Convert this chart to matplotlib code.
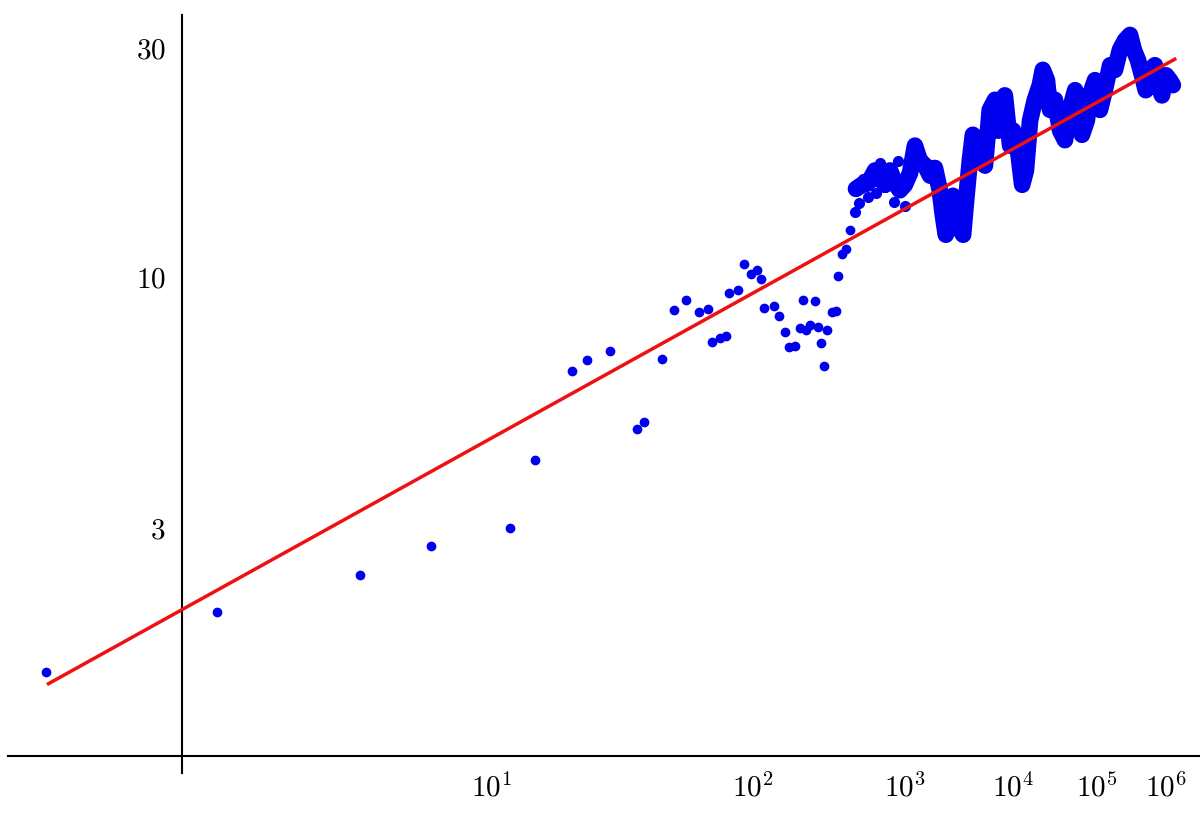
import numpy as np
import matplotlib
matplotlib.use("Agg")
import matplotlib.pyplot as plt

plt.rcParams['mathtext.fontset'] = 'cm'
plt.rcParams['font.family'] = 'DejaVu Serif'

# sparse points
x_sparse = [2.02, 3.03, 5.06, 7.08, 11.2, 13.2, 17.3, 19.4, 23.4, 29.6, 31.5, 37.3, 41.9, 47.3,
            54.3, 59.6, 62.3, 68.1, 72.9, 75.4, 83.8, 89.9, 98.0, 105.6, 110.7, 115.0, 130.9,
            139.5, 151.1, 159.7, 173.3, 185.4, 193.4, 201.7, 214.0, 229.5, 239.9, 250.7, 262.0,
            274.0, 294.9, 313.9, 323.2, 344.3, 365.2, 389.8]
y_sparse = [1.50, 2.00, 2.39, 2.74, 2.99, 4.14, 6.34, 6.68, 6.98, 4.80, 4.96, 6.71, 8.50, 8.91,
            8.41, 8.54, 7.29, 7.43, 7.50, 9.22, 9.35, 10.6, 10.1, 10.3, 9.86, 8.58, 8.66,
            8.25, 7.64, 7.11, 7.14, 7.79, 8.91, 7.72, 7.90, 8.87, 7.83, 7.25, 6.49,
            7.72, 8.41, 8.45, 10.0, 11.1, 11.4, 12.5]

# scattered points near 10^3
x_mid = [420, 450, 480, 520, 560, 600, 640, 700, 760, 820, 880, 950, 1000]
y_mid = [13.6, 14.2, 15.9, 14.6, 16.3, 14.9, 17.2, 15.3, 16.8, 14.3, 17.4, 15.8, 14.0]

# dense region: log10(x) and y
lx_dense = [2.633, 2.675, 2.718, 2.770, 2.806, 2.843, 2.883, 2.921, 2.959, 2.998, 3.040, 3.080,
            3.120, 3.164, 3.206, 3.248, 3.290, 3.317, 3.343, 3.380, 3.407, 3.435, 3.473, 3.501,
            3.529, 3.564, 3.593, 3.632, 3.662, 3.710, 3.758, 3.811, 3.842, 3.880, 3.912, 3.967,
            3.999, 4.051, 4.096, 4.137, 4.183, 4.237, 4.293, 4.327, 4.375, 4.411, 4.469, 4.531,
            4.590, 4.650, 4.716, 4.753, 4.802, 4.865, 4.903, 4.972, 5.037, 5.103, 5.176, 5.243,
            5.312, 5.385, 5.457, 5.512, 5.573, 5.634, 5.690, 5.754, 5.830, 5.876, 5.941, 6.006,
            6.066, 6.115]
y_dense = [15.2, 15.5, 15.6, 16.6, 16.0, 15.5, 16.6, 15.6, 15.1, 15.5, 16.4, 18.7,
           17.4, 17.0, 16.2, 16.8, 15.1, 13.4, 12.2, 13.7, 14.7, 14.4, 12.5, 12.2,
           14.4, 17.4, 19.7, 19.2, 18.7, 17.0, 22.2, 23.3, 20.1, 22.7, 23.8, 18.7,
           20.1, 18.3, 15.5, 16.6, 21.1, 23.3, 25.0, 26.9, 25.6, 22.2, 23.3, 20.1,
           19.2, 22.2, 24.4, 22.2, 19.7, 21.1, 23.8, 25.6, 22.2, 24.4, 27.5, 26.9,
           29.6, 31.0, 31.8, 29.6, 28.2, 26.2, 24.4, 26.9, 27.5, 25.0, 23.8, 26.2,
           25.6, 25.0]

fit_x = [2.03, 1.4e6]
xticks = [1e1, 1e2, 1e3, 1e4, 1e5, 1e6]
xticklabels = [r'$10^{1}$', r'$10^{2}$', r'$10^{3}$', r'$10^{4}$', r'$10^{5}$', r'$10^{6}$']
yticks = [3, 10, 30]

fwd = lambda x: np.log(np.log(np.asarray(x, dtype=float)))
inv = lambda u: np.exp(np.exp(u))

fig = plt.figure(figsize=(12, 8.25), dpi=100)
ax = fig.add_axes([8/1200, 1-773/825, 1192/1200, 758/825])
ax.set_xscale('function', functions=(fwd, inv))
ax.set_yscale('log')

blue = '#0000ee'
ax.plot(x_sparse, y_sparse, 'o', color=blue, ms=6, zorder=2)
ax.plot(x_mid, y_mid, 'o', color=blue, ms=7, zorder=2)
xd = 10**np.array(lx_dense)
ax.plot(xd, y_dense, '-', color=blue, lw=12, solid_joinstyle='round', solid_capstyle='round', zorder=2)
ax.plot(xd, y_dense, 'o', color=blue, ms=9, zorder=2)
fx = np.array(fit_x)
ax.plot(fx, 2*np.log(fx), color='#ee1111', lw=2.5, zorder=3)

ax.set_xlim(inv(-0.453), inv(2.717))
ax.set_ylim(10**-0.035, 10**1.544)
ax.spines['top'].set_visible(False)
ax.spines['right'].set_visible(False)
ax.spines['left'].set_position(('data', inv(0.011)))
ax.spines['bottom'].set_position(('data', 1.0))
for s in ('left', 'bottom'):
    ax.spines[s].set_linewidth(1.5)
ax.set_xticks(xticks)
ax.set_xticklabels(xticklabels)
ax.set_yticks(yticks)
ax.set_yticklabels([r'$3$', r'$10$', r'$30$'])
ax.minorticks_off()
ax.tick_params(axis='both', labelsize=21, length=0, pad=12)
ax.patch.set_alpha(0)
fig.savefig('out.png', dpi=100)
